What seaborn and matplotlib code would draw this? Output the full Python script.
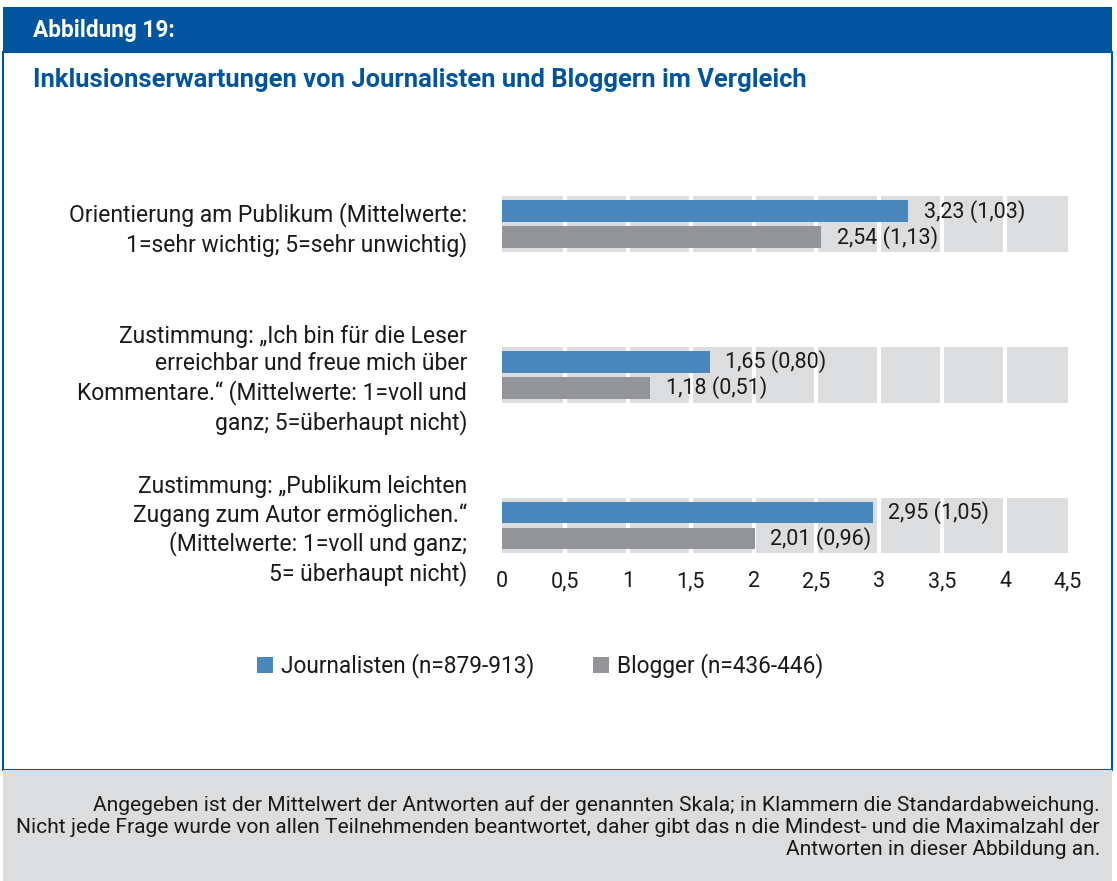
#!/usr/bin/env python3

import pandas as pd
import matplotlib
matplotlib.use("Agg")
import matplotlib.pyplot as plt
from matplotlib.patches import Rectangle
import seaborn as sns

# ----------------------------- Data -----------------------------------------
categories = [
    "Orientierung am Publikum (Mittelwerte:\n1=sehr wichtig; 5=sehr unwichtig)",
    "Zustimmung: „Ich bin für die Leser\nerreichbar und freue mich über\n"
    "Kommentare.“ (Mittelwerte: 1=voll und\nganz; 5=überhaupt nicht)",
    "Zustimmung: „Publikum leichten\nZugang zum Autor ermöglichen.“\n"
    "(Mittelwerte: 1=voll und ganz;\n5= überhaupt nicht)",
]
groups = ["Journalisten (n=879-913)", "Blogger (n=436-446)"]
journalisten_mean = [3.23, 1.65, 2.95]
journalisten_sd = [1.03, 0.80, 1.05]
blogger_mean = [2.54, 1.18, 2.01]
blogger_sd = [1.13, 0.51, 0.96]
x_ticks = [0, 0.5, 1, 1.5, 2, 2.5, 3, 3.5, 4, 4.5]

title_tag = "Abbildung 19:"
title = "Inklusionserwartungen von Journalisten und Bloggern im Vergleich"
footnote = ("Angegeben ist der Mittelwert der Antworten auf der genannten Skala; in Klammern die Standardabweichung.\n"
            "Nicht jede Frage wurde von allen Teilnehmenden beantwortet, daher gibt das n die Mindest- und die Maximalzahl der\n"
            "Antworten in dieser Abbildung an.")

# ----------------------------- Styling --------------------------------------
BLUE_HEAD = "#00559e"
BLUE_BAR = "#4a87bd"
GRAY_BAR = "#939498"
GRAY_BAND = "#dcdddf"
TEXT = "#1a1a1a"

sns.set_style("white")
plt.rcParams["font.family"] = ["Roboto", "DejaVu Sans"]

W, H = 1117, 881
fig = plt.figure(figsize=(W / 100, H / 100), dpi=100)


def fx(x):
    return x / W


def fy(y):
    return 1 - y / H


# frame, header, footer
fig.add_artist(Rectangle((fx(3), fy(770)), fx(1109), 718 / H, facecolor="none",
                         edgecolor=BLUE_HEAD, linewidth=1.5, transform=fig.transFigure))
fig.add_artist(Rectangle((fx(3), fy(52)), fx(1109), 45 / H, facecolor=BLUE_HEAD,
                         edgecolor="none", transform=fig.transFigure))
fig.add_artist(Rectangle((fx(3), fy(881)), fx(1109), 111 / H, facecolor=GRAY_BAND,
                         edgecolor="none", transform=fig.transFigure))

fig.text(fx(33), fy(30), title_tag, color="white", fontsize=16.3, fontweight="bold",
         va="center", ha="left")
fig.text(fx(33), fy(80), title, color=BLUE_HEAD, fontsize=18.4, fontweight="bold",
         va="center", ha="left")
fig.text(fx(1100), fy(827), footnote, color=TEXT, fontsize=15.1, ha="right",
         va="center", multialignment="right", linespacing=1.2)

# ----------------------------- Chart ----------------------------------------
df = pd.DataFrame({
    "Kategorie": categories * 2,
    "Gruppe": [groups[0]] * 3 + [groups[1]] * 3,
    "Mittelwert": journalisten_mean + blogger_mean,
})

ax = fig.add_axes([fx(502), fy(560), 566 / W, 380 / H])

# gray background bands + white grid
for i in range(len(categories)):
    ax.axhspan(i - 0.1855, i + 0.1855, xmin=0, xmax=1, color=GRAY_BAND, zorder=0, lw=0)
for t in x_ticks[1:-1]:
    ax.axvline(t, color="white", linewidth=3, zorder=0.5)

sns.barplot(
    data=df, x="Mittelwert", y="Kategorie", hue="Gruppe", orient="h",
    palette=[BLUE_BAR, GRAY_BAR], width=0.345, gap=0.16, ax=ax,
    zorder=2, saturation=1, errorbar=None, linewidth=0,
)

sds = [journalisten_sd, blogger_sd]
means = [journalisten_mean, blogger_mean]
for cont, m, s in zip(ax.containers, means, sds):
    labels = [f"{a:.2f} ({b:.2f})".replace(".", ",") for a, b in zip(m, s)]
    ax.bar_label(cont, labels=labels, padding=11, fontsize=15.5, color=TEXT)

ax.set_xlim(0, x_ticks[-1])
ax.set_ylim(2.229, -0.292)
ax.set_xticks(x_ticks)
ax.set_xticklabels([f"{t:g}".replace(".", ",") for t in x_ticks], fontsize=15.5, color=TEXT)
ax.tick_params(axis="both", length=0)
ax.tick_params(axis="x", pad=8)
ax.tick_params(axis="y", pad=25, labelsize=16.5, labelcolor=TEXT)
for lab in ax.get_yticklabels():
    lab.set_linespacing(1.25)
ax.set_xlabel("")
ax.set_ylabel("")
for sp in ax.spines.values():
    sp.set_visible(False)

handles, labels = ax.get_legend_handles_labels()
ax.get_legend().remove()
fig.legend(handles, labels, loc="center", bbox_to_anchor=(fx(540), fy(666)), ncol=2,
           frameon=False, fontsize=16.3, handlelength=0.7, handleheight=0.7,
           handletextpad=0.35, columnspacing=2.6, labelcolor=TEXT)

plt.savefig("out.png", dpi=100)
plt.close()
